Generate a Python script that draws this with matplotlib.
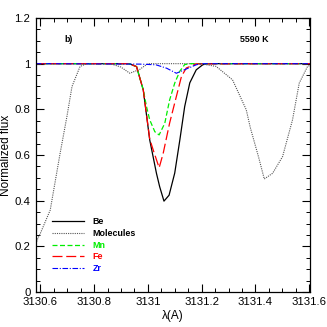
import matplotlib.pyplot as plt
from matplotlib.ticker import MultipleLocator, FuncFormatter

plt.rcParams['font.family'] = ['Liberation Sans', 'DejaVu Sans']

# Be
wl_be = [3130.584, 3130.930, 3130.958, 3130.983, 3131.007, 3131.032, 3131.044, 3131.060,
         3131.079, 3131.100, 3131.119, 3131.137, 3131.156, 3131.180, 3131.204, 3131.220, 3131.603]
fx_be = [1.0, 1.0, 0.987, 0.885, 0.666, 0.520, 0.461, 0.398,
         0.424, 0.521, 0.666, 0.812, 0.916, 0.973, 0.995, 1.0, 1.0]

# Molecules
wl_mol = [3130.584, 3130.591, 3130.600, 3130.637, 3130.674, 3130.699, 3130.718, 3130.748,
          3130.773, 3130.860, 3130.900, 3130.933, 3130.970, 3131.000, 3131.193, 3131.254,
          3131.315, 3131.366, 3131.381, 3131.412, 3131.433, 3131.464, 3131.501, 3131.538,
          3131.563, 3131.594, 3131.603]
fx_mol = [0.212, 0.235, 0.256, 0.359, 0.609, 0.768, 0.900, 0.988,
          1.0, 1.0, 0.985, 0.958, 0.975, 1.0, 1.0, 0.988,
          0.929, 0.798, 0.720, 0.590, 0.495, 0.520, 0.593, 0.754,
          0.915, 0.988, 0.992]

# Mn
wl_mn = [3130.584, 3130.930, 3130.958, 3130.983, 3130.995, 3131.007, 3131.026, 3131.042,
         3131.063, 3131.081, 3131.100, 3131.119, 3131.137, 3131.160, 3131.603]
fx_mn = [1.0, 1.0, 0.987, 0.885, 0.812, 0.754, 0.702, 0.688,
         0.739, 0.841, 0.915, 0.967, 0.996, 1.0, 1.0]

# Fe
wl_fe = [3130.584, 3130.930, 3130.958, 3130.983, 3131.007, 3131.020, 3131.042, 3131.057,
         3131.081, 3131.106, 3131.125, 3131.143, 3131.180, 3131.603]
fx_fe = [1.0, 1.0, 0.987, 0.885, 0.670, 0.622, 0.544, 0.607,
         0.740, 0.856, 0.944, 0.981, 0.999, 1.0]

# Zr
wl_zr = [3130.584, 3130.970, 3131.030, 3131.070, 3131.106, 3131.140, 3131.180, 3131.200, 3131.603]
fx_zr = [1.0, 0.998, 0.995, 0.980, 0.958, 0.975, 0.995, 1.0, 1.0]

labels = ['Be', 'Molecules', 'Mn', 'Fe', 'Zr']
text_colors = ['black', 'black', '#00ee00', 'red', 'blue']

fig = plt.figure(figsize=(3.27, 3.27), dpi=100)
ax = fig.add_axes([0.110, 0.107, 0.838, 0.838])

ax.plot(wl_be, fx_be, color='black', lw=0.9, label=labels[0])
ax.plot(wl_mol, fx_mol, color='#555555', lw=0.8, linestyle=(0, (1, 1)), label=labels[1])
ax.plot(wl_mn, fx_mn, color='#00ee00', lw=0.9, linestyle=(0, (4, 2)), label=labels[2])
ax.plot(wl_fe, fx_fe, color='red', lw=0.9, linestyle=(0, (8, 3)), label=labels[3])
ax.plot(wl_zr, fx_zr, color='blue', lw=0.8, linestyle=(0, (5, 1.5, 1, 1.5)), label=labels[4])

ax.set_xlim(3130.584, 3131.603)
ax.set_ylim(0, 1.2)
ax.xaxis.set_major_locator(MultipleLocator(0.2))
ax.xaxis.set_minor_locator(MultipleLocator(0.05))
ax.yaxis.set_major_locator(MultipleLocator(0.2))
ax.yaxis.set_minor_locator(MultipleLocator(0.05))
fmt = FuncFormatter(lambda v, p: f'{v:.1f}'.rstrip('0').rstrip('.'))
ax.xaxis.set_major_formatter(fmt)
ax.yaxis.set_major_formatter(fmt)
ax.tick_params(which='both', direction='in', top=True, right=True, labelsize=8.2)
ax.tick_params(axis='x', pad=3.5)
ax.tick_params(axis='y', pad=4)
ax.tick_params(which='major', length=6, width=0.8)
ax.tick_params(which='minor', length=3, width=0.7)
for s in ax.spines.values():
    s.set_linewidth(0.9)

ax.set_xlabel('λ(A)', fontsize=8.5, labelpad=2)
ax.set_ylabel('Normalized flux', fontsize=8.5)
ax.yaxis.set_label_coords(-0.088, 0.5)

ax.text(0.102, 0.92, 'b)', transform=ax.transAxes, fontsize=6.4, fontweight='bold', va='center')
ax.text(0.745, 0.92, '5590 K', transform=ax.transAxes, fontsize=6.4, fontweight='bold', va='center')

leg = ax.legend(loc='lower left', bbox_to_anchor=(0.045, 0.056), frameon=False,
                prop={'size': 6.4, 'weight': 'bold'}, handlelength=3.6,
                handletextpad=1.0, labelspacing=0.3, borderaxespad=0)
for t, c in zip(leg.get_texts(), text_colors):
    t.set_color(c)

fig.savefig('out.png', dpi=100)
